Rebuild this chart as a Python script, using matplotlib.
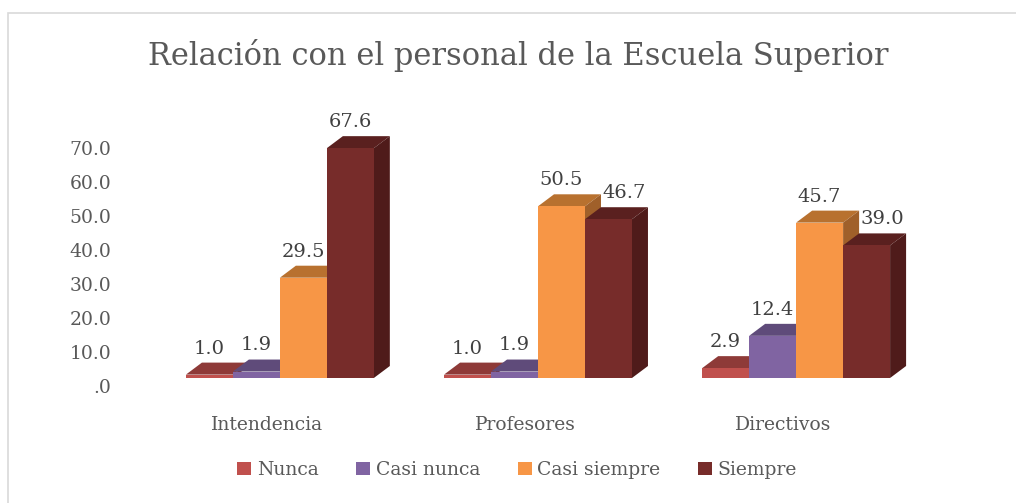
import matplotlib.pyplot as plt
import matplotlib.transforms as mtransforms
from matplotlib.patches import Polygon, Rectangle
import numpy as np

categories = ["Intendencia", "Profesores", "Directivos"]
series = ["Nunca", "Casi nunca", "Casi siempre", "Siempre"]
nunca = [1.0, 1.0, 2.9]
casi_nunca = [1.9, 1.9, 12.4]
casi_siempre = [29.5, 50.5, 45.7]
siempre = [67.6, 46.7, 39.0]
values = [nunca, casi_nunca, casi_siempre, siempre]

# front, top, side colours for each series
front_colors = ["#C0504D", "#8064A2", "#F79646", "#772C2A"]
top_colors = ["#8E3A38", "#5F4B7A", "#B8712F", "#5A201F"]
side_colors = ["#7A302E", "#4F3E66", "#A0602A", "#4F1B1A"]

plt.rcParams['font.family'] = ['DejaVu Serif']
text_color = "#595959"

fig = plt.figure(figsize=(10.16, 5.03), dpi=100)
fig.patches.append(Rectangle((8 / 1016, -0.1), 1.2, (503 - 13) / 503 + 0.1,
                             transform=fig.transFigure, fill=False,
                             edgecolor="#D9D9D9", linewidth=1.2))

ax = fig.add_axes([125 / 1016, 125 / 503, 826 / 1016, 272 / 503])
ax.set_xlim(-0.6, 2.6)
ax.set_ylim(0, 80)

width = 0.182
dx = 16 / 258       # depth in x (data units)
dy = 12 / 3.4       # depth in y (data units)
x = np.arange(len(categories))

for g in range(len(categories)):
    for s in range(len(series)):
        v = values[s][g]
        left = x[g] + (s - 2) * width
        right = left + width
        z = 2 + s * 3
        top = Polygon([[left, v], [left + dx, v + dy], [right + dx, v + dy], [right, v]],
                      closed=True, facecolor=top_colors[s], edgecolor="none",
                      zorder=z, clip_on=False)
        side = Polygon([[right, 0], [right + dx, dy], [right + dx, v + dy], [right, v]],
                       closed=True, facecolor=side_colors[s], edgecolor="none",
                       zorder=z, clip_on=False)
        ax.add_patch(top)
        ax.add_patch(side)
        ax.bar(left, v, width=width, align='edge', color=front_colors[s],
               zorder=z + 1, label=series[s] if g == 0 else None)
        # move a label right when the bar before it is taller, so they don't collide
        lx = left + width / 2
        if s > 0 and values[s - 1][g] > v:
            lx += 0.06
        ax.text(lx, v + dy + 1.5, f"{v:.1f}", ha='center', va='bottom',
                fontsize=14, color="#404040", zorder=20)

for side_name in ax.spines:
    ax.spines[side_name].set_visible(False)

ax.set_yticks(np.arange(0, 71, 10))
ax.set_yticklabels([".0"] + [f"{t:.1f}" for t in np.arange(10, 71, 10)])
ax.tick_params(axis='y', length=0, pad=10, labelsize=13.5, labelcolor=text_color)
off_y = mtransforms.ScaledTranslation(0, -8 / 100, fig.dpi_scale_trans)
for lab in ax.get_yticklabels():
    lab.set_transform(lab.get_transform() + off_y)

ax.set_xticks(x)
ax.set_xticklabels(categories)
ax.tick_params(axis='x', length=0, pad=27, labelsize=13.5, labelcolor=text_color)
off_x = mtransforms.ScaledTranslation(-13 / 100, 0, fig.dpi_scale_trans)
for lab in ax.get_xticklabels():
    lab.set_transform(lab.get_transform() + off_x)

fig.text(518 / 1016, 1 - 55 / 503, "Relación con el personal de la Escuela Superior",
         ha='center', va='center', fontsize=22, color=text_color)

fig.legend(loc='center', bbox_to_anchor=(517 / 1016, 1 - 470 / 503), ncol=4,
           frameon=False, fontsize=13.5, handlelength=0.75, handleheight=0.75,
           handletextpad=0.3, columnspacing=2.0, labelcolor=text_color)

fig.savefig("out.png", dpi=100)
